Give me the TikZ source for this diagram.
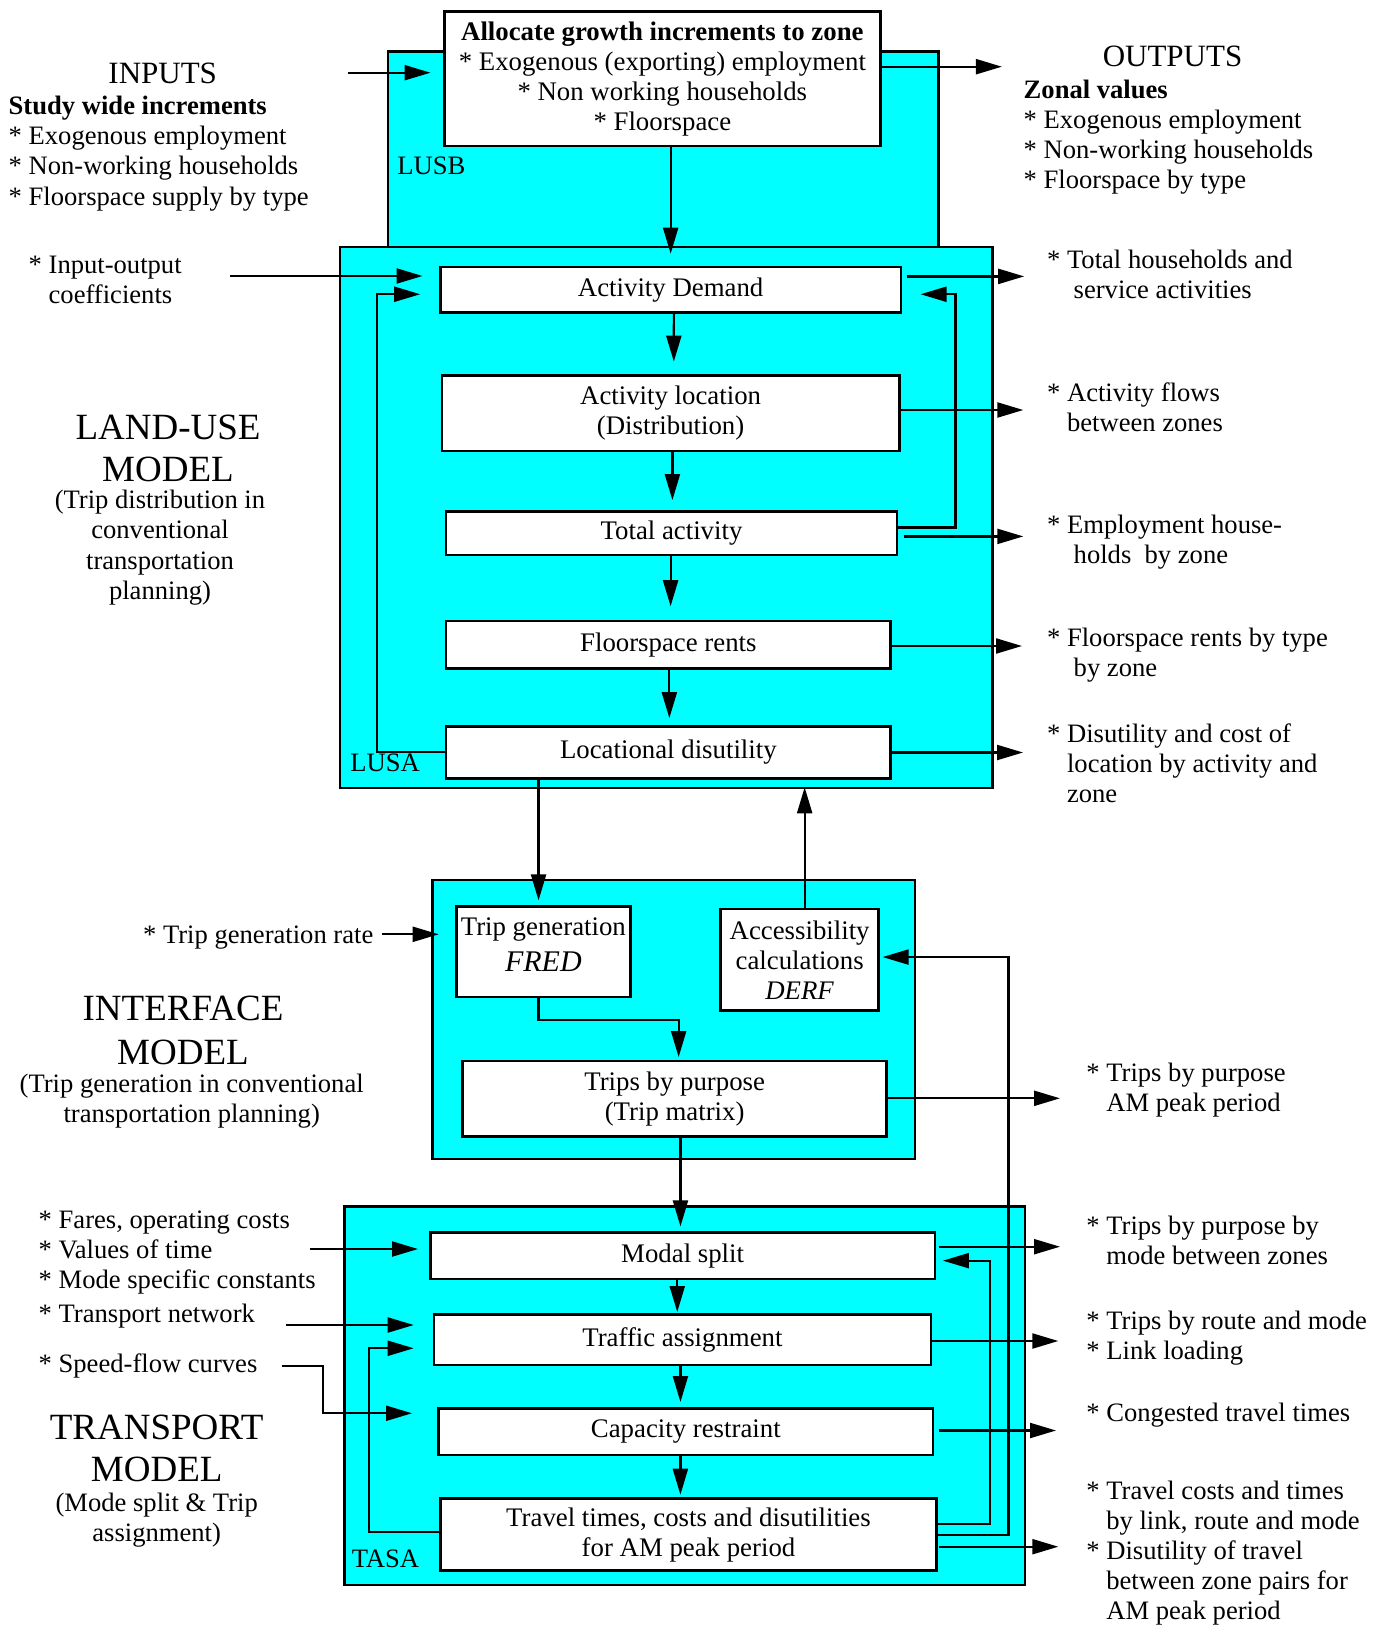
\documentclass[tikz,border=0pt]{standalone}
\usepackage{fontspec}
\setmainfont{Liberation Serif}
\usetikzlibrary{arrows.meta}
\definecolor{panelcyan}{RGB}{0,255,255}
\newcommand{\itm}{*\space}
\newcommand{\indA}{\hspace*{0.75em}}
\newcommand{\indB}{\hspace*{1em}}

\begin{document}
\begin{tikzpicture}[x=0.5pt, y=-0.5pt]
\tikzset{
  txt/.style={font=\fontsize{13.3}{15}\selectfont, inner sep=0pt, align=left, anchor=base west},
  ctxt/.style={font=\fontsize{13.3}{15.3}\selectfont, inner sep=0pt, align=center, anchor=base},
  head/.style={font=\fontsize{18.5}{21.2}\selectfont, inner sep=0pt, align=center, anchor=base},
  medhead/.style={font=\fontsize{15.5}{18}\selectfont, inner sep=0pt, anchor=base},
  panel/.style={draw, fill=panelcyan, line width=1.3pt, inner sep=0pt},
  box/.style={draw, fill=white, line width=1.3pt, inner sep=0pt, align=center,
              font=\fontsize{13.4}{15}\selectfont},
  arr/.style={line width=1.1pt, -{Triangle[length=13pt,width=7.5pt]}},
}
\useasboundingbox (0,0) rectangle (1378,1627);

% ---------- sub-model panels ----------
\node[panel, minimum width=275.25pt, minimum height=97.65pt] (lusb) at (663.25,149.35) {};
\node[panel, minimum width=326.35pt, minimum height=270.55pt] (lusa) at (666.15,517.35) {};
\node[panel, minimum width=241.05pt, minimum height=139.5pt] (itf) at (673.75,1019.5) {};
\node[panel, minimum width=340.35pt, minimum height=189.15pt] (tasa) at (684.65,1395.85) {};

% ---------- process boxes ----------
\node[box, minimum width=218.05pt, minimum height=67.15pt] (alloc) at (662.35,78.85)
  {\textbf{Allocate growth increments to zone}\\\itm Exogenous (exporting) employment\\\itm Non working households\\\itm Floorspace};
\node[box, minimum width=230.35pt, minimum height=22.85pt] (ad) at (670.65,289.65) {Activity Demand};
\node[box, minimum width=228.6pt, minimum height=37.8pt] (al) at (670.6,413.2) {Activity location\\(Distribution)};
\node[box, minimum width=225.5pt, minimum height=21.8pt] (ta) at (671.5,533.2) {Total activity};
\node[box, minimum width=222.35pt, minimum height=23.75pt] (fr) at (668.35,644.85) {Floorspace rents};
\node[box, minimum width=222.35pt, minimum height=25.9pt] (ld) at (668.35,752.3) {Locational disutility};
\node[box, minimum width=87.05pt, minimum height=45.15pt, text depth=7.3pt] (tg) at (543.35,951.85)
  {Trip generation\\[3pt]{\fontsize{15}{15}\selectfont\itshape FRED}};
\node[box, minimum width=79.05pt, minimum height=50.85pt] (acc) at (799.65,959.85)
  {Accessibility\\calculations\\\textit{DERF}};
\node[box, minimum width=212.05pt, minimum height=37.85pt] (tp) at (674.65,1098.85) {Trips by purpose\\(Trip matrix)};
\node[box, minimum width=252.25pt, minimum height=23.15pt] (ms) at (682.65,1255.85) {Modal split};
\node[box, minimum width=248.45pt, minimum height=25.15pt] (tra) at (682.45,1339.85) {Traffic assignment};
\node[box, minimum width=247.3pt, minimum height=23.15pt] (cr) at (685.8,1431.85) {Capacity restraint};
\node[box, minimum width=248.2pt, minimum height=36pt] (tt) at (688.5,1534.7)
  {Travel times, costs and disutilities\\for AM peak period};

% ---------- panel labels ----------
\node[txt] (l_lusb) at (397,174) {LUSB};
\node[txt] (l_lusa) at (350,771) {LUSA};
\node[txt] (l_tasa) at (351.4,1567.7) {TASA};

% ---------- free ends of input and output connectors ----------
\coordinate (in0) at (347.9,72.7);
\coordinate (in1) at (230,276);
\coordinate (in2) at (382,934.3);
\coordinate (in3) at (310,1249);
\coordinate (in4) at (286,1325);
\coordinate (in5) at (281.7,1365.7);
\coordinate (o0) at (1001.9,66.7);
\coordinate (o1) at (1024.2,276.4);
\coordinate (o2) at (1023.3,410);
\coordinate (o3) at (1023.3,536.4);
\coordinate (o4) at (1022,646);
\coordinate (o5) at (1023,752.5);
\coordinate (o6) at (1060,1098.3);
\coordinate (o7) at (1060,1246.7);
\coordinate (o8) at (1058.3,1341);
\coordinate (o9) at (1056,1430.5);
\coordinate (o10) at (1058.3,1546.7);

% ---------- inputs ----------
\draw[arr, shorten >=6.25pt] (in0) -- (in0 -| alloc.west);
\draw[arr, shorten >=8.25pt] (in1) -- (in1 -| ad.west);
\draw[arr, shorten >=8.15pt] (in2) -- (in2 -| tg.west);
\draw[arr, shorten >=5.55pt] (in3) -- (in3 -| ms.west);
\draw[arr, shorten >=9.5pt] (in4) -- (in4 -| tra.west);
\draw[arr, shorten >=12.6pt] (in5) -- ++(41.6,0) |- ([yshift=9.3pt]cr.west);

% ---------- outputs ----------
\draw[arr] (o0 -| alloc.east) -- (o0);
\draw[arr, shorten <=2.45pt] (o1 -| ad.east) -- (o1);
\draw[arr] (o2 -| al.east) -- (o2);
\draw[arr, shorten <=2.65pt] (o3 -| ta.east) -- (o3);
\draw[arr] (o4 -| fr.east) -- (o4);
\draw[arr] (o5 -| ld.east) -- (o5);
\draw[arr] (o6 -| tp.east) -- (o6);
\draw[arr, shorten <=1.5pt] (o7 -| ms.east) -- (o7);
\draw[arr] (o8 -| tra.east) -- (o8);
\draw[arr, shorten <=2.45pt] (o9 -| cr.east) -- (o9);
\draw[arr, shorten <=0.65pt] (o10 -| tt.east) -- (o10);

% ---------- main flow ----------
\draw[arr, shorten >=5.9pt] (ad.north |- alloc.south) -- (ad.north);
\draw[arr, shorten >=6.25pt] ([xshift=1.6pt]ad.south) -- ([xshift=1.6pt]al.north);
\draw[arr, shorten >=5pt] ([xshift=0.9pt]al.south) -- ([xshift=0.9pt]al.south |- ta.north);
\draw[arr, shorten >=6.8pt] ([xshift=-0.45pt]ta.south) -- ([xshift=-0.45pt]ta.south |- fr.north);
\draw[arr, shorten >=3.5pt] ([xshift=0.5pt]fr.south) -- ([xshift=0.5pt]fr.south |- ld.north);
\draw[arr, shorten >=2.5pt] ([xshift=-2.4pt]tg.north |- ld.south) -- ([xshift=-2.4pt]tg.north);
\draw[arr, shorten >=3.9pt] ([xshift=2.5pt]acc.north) -- ([xshift=2.5pt]acc.north |- ld.south);
\draw[arr, shorten >=1.35pt] ([xshift=-2.4pt]tg.south) -- ++(0,21.7) -| ([xshift=2pt]tp.north);
\draw[arr, shorten >=2.5pt] ([xshift=2.9pt]tp.south) -- ([xshift=2.9pt]tp.south |- ms.north);
\draw[arr, shorten >=0.7pt] ([xshift=-2.7pt]ms.south) -- ([xshift=-2.7pt]ms.south |- tra.north);
\draw[arr, shorten >=2.7pt] ([xshift=-1pt]tra.south) -- ([xshift=-1pt]tra.south |- cr.north);
\draw[arr, shorten >=1.35pt] ([xshift=-2.7pt]cr.south) -- ([xshift=-2.7pt]cr.south |- tt.north);

% ---------- feedback loops ----------
\draw[arr, shorten >=9.4pt] (ld.west) -- ++(-67.8,0) |- ([yshift=-2.3pt]ad.west);
\draw[arr, shorten >=9.15pt] ([yshift=2.85pt]ta.east) -- ++(57.1,0) |- ([yshift=-2.3pt]ad.east);
\draw[arr, shorten >=1.3pt] (tt.east) -- ++(70.5,0) |- ([yshift=1.4pt]acc.east);
\draw[arr, shorten >=3.35pt] ([yshift=5.2pt]tt.east) -- ++(51.8,0) |- ([yshift=-2.4pt]ms.east);
\draw[arr, shorten >=9.5pt] ([yshift=1.2pt]tt.west) -- ++(-70.3,0) |- ([yshift=-4.2pt]tra.west);

% ---------- left column texts (multi-line nodes sit on their last baseline) ----------
\node[medhead] (t_inputs) at (162.7,83.3) {INPUTS};
\node[txt] (t_inlist) at (8.3,205) {\textbf{Study wide increments}\\\itm Exogenous employment\\\itm Non-working households\\\itm Floorspace supply by type};
\node[txt] (t_io) at (28.3,303.3) {\itm Input-output\\\indA coefficients};
\node[head] (t_lu) at (168,481.7) {LAND-USE\\MODEL};
\node[ctxt] (t_lu2) at (160,599.8) {(Trip distribution in\\conventional\\transportation\\planning)};
\node[txt] (t_tgr) at (142.7,943.3) {\itm Trip generation rate};
\node[head, font=\fontsize{18.5}{22.15}\selectfont] (t_if) at (183,1064.3) {INTERFACE\\MODEL};
\node[ctxt, font=\fontsize{13.3}{15}\selectfont] (t_if2) at (191.7,1122.5) {(Trip generation in conventional\\transportation planning)};
\node[txt] (t_tin) at (38.3,1288.3) {\itm Fares, operating costs\\\itm Values of time\\\itm Mode specific constants};
\node[txt] (t_net) at (38.3,1322.7) {\itm Transport network};
\node[txt] (t_spd) at (38.3,1372.3) {\itm Speed-flow curves};
\node[head] (t_tm) at (156.7,1481.7) {TRANSPORT\\MODEL};
\node[ctxt, font=\fontsize{13.3}{15}\selectfont] (t_tm2) at (156.7,1541.7) {(Mode split \& Trip\\assignment)};

% ---------- right column texts ----------
\node[medhead] (t_out) at (1172.5,66.7) {OUTPUTS};
\node[txt] (t_zv) at (1023.3,188.3) {\textbf{Zonal values}\\\itm Exogenous employment\\\itm Non-working households\\\itm Floorspace by type};
\node[txt] (t_r1) at (1046.7,298.3) {\itm Total households and\\\indB service activities};
\node[txt] (t_r2) at (1046.7,431.7) {\itm Activity flows\\\indA between zones};
\node[txt] (t_r3) at (1046.7,563.3) {\itm Employment house-\\\indB holds\ \ by zone};
\node[txt] (t_r4) at (1046.7,676.7) {\itm Floorspace rents by type\\\indB by zone};
\node[txt] (t_r5) at (1046.7,802.7) {\itm Disutility and cost of\\\indA location by activity and\\\indA zone};
\node[txt] (t_r6) at (1086,1111.7) {\itm Trips by purpose\\\indA AM peak period};
\node[txt] (t_r7) at (1086,1264.3) {\itm Trips by purpose by\\\indA mode between zones};
\node[txt] (t_r8) at (1086,1359.3) {\itm Trips by route and mode\\\itm Link loading};
\node[txt] (t_r9) at (1086,1421.7) {\itm Congested travel times};
\node[txt] (t_r10) at (1086,1619.5) {\itm Travel costs and times\\\indA by link, route and mode\\\itm Disutility of travel\\\indA between zone pairs for\\\indA AM peak period};
\end{tikzpicture}
\end{document}
